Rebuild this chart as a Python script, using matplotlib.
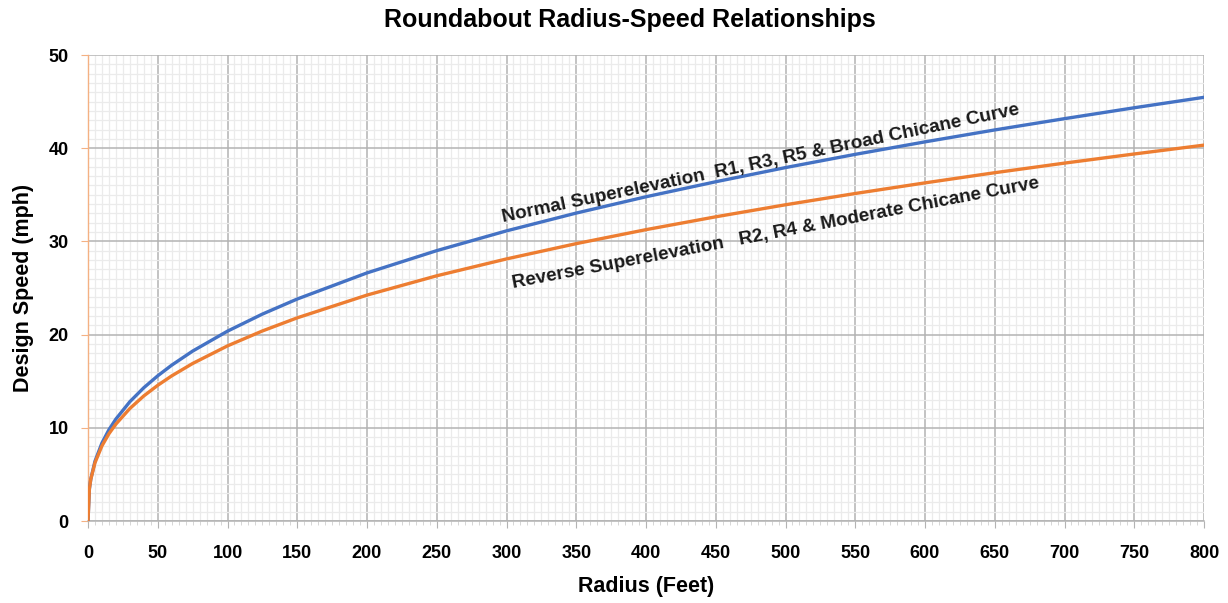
import matplotlib
matplotlib.use("Agg")
import matplotlib.pyplot as plt
from matplotlib.ticker import MultipleLocator

plt.rcParams['font.family'] = ['Liberation Sans', 'DejaVu Sans']

radius = [0, 1, 2, 5, 10, 15, 20, 30, 40, 50, 60, 75, 100, 125, 150, 200, 250, 300,
          350, 400, 450, 500, 550, 600, 650, 700, 750, 800]
normal_speed = [0, 3.44, 4.50, 6.41, 8.37, 9.79, 10.94, 12.80, 14.30, 15.58, 16.72, 18.23,
                20.37, 22.20, 23.82, 26.62, 29.01, 31.13, 33.04, 34.79, 36.40, 37.92,
                39.34, 40.68, 41.96, 43.17, 44.34, 45.46]
reverse_speed = [0, 3.46, 4.47, 6.25, 8.06, 9.36, 10.40, 12.07, 13.42, 14.56, 15.57, 16.90,
                 18.79, 20.39, 21.80, 24.24, 26.31, 28.12, 29.76, 31.26, 32.64, 33.93,
                 35.14, 36.28, 37.37, 38.40, 39.38, 40.33]

title = "Roundabout Radius-Speed Relationships"
xlabel = "Radius (Feet)"
ylabel = "Design Speed (mph)"
normal_label = "Normal Superelevation  R1, R3, R5 & Broad Chicane Curve"
reverse_label = "Reverse Superelevation   R2, R4 & Moderate Chicane Curve"

fig = plt.figure(figsize=(12.28, 6.03), dpi=100)
ax = fig.add_axes([88/1228, 1-521/603, (1204-88)/1228, (521-55)/603])

ax.set_xlim(0, 800)
ax.set_ylim(0, 50)
ax.xaxis.set_major_locator(MultipleLocator(50))
ax.xaxis.set_minor_locator(MultipleLocator(5))
ax.yaxis.set_major_locator(MultipleLocator(10))
ax.yaxis.set_minor_locator(MultipleLocator(1))

ax.grid(which='minor', color='#ebebeb', linewidth=0.9)
ax.grid(which='major', color='#b3b3b3', linewidth=1.1)
ax.set_axisbelow(True)

ax.plot(radius, normal_speed, color='#4472C4', linewidth=2.4, solid_capstyle='round', zorder=3)
ax.plot(radius, reverse_speed, color='#ED7D31', linewidth=2.4, solid_capstyle='round', zorder=3)

for s in ['top', 'right']:
    ax.spines[s].set_visible(False)
ax.spines['left'].set_color('#f4b183')
ax.spines['left'].set_linewidth(1.0)
ax.spines['bottom'].set_color('#b3b3b3')
ax.spines['bottom'].set_linewidth(1.1)

ax.tick_params(axis='y', which='major', length=5, color='#f4b183', labelsize=13, pad=9)
ax.tick_params(axis='y', which='minor', length=0)
ax.tick_params(axis='x', which='major', length=5, color='#b3b3b3', labelsize=13, pad=12)
ax.tick_params(axis='x', which='minor', length=3, color='#d0d0d0')
for lab in ax.get_xticklabels() + ax.get_yticklabels():
    lab.set_fontweight('bold')

ax.set_xlabel(xlabel, fontsize=15.5, fontweight='bold')
ax.set_ylabel(ylabel, fontsize=15.5, fontweight='bold')
ax.xaxis.set_label_coords(0.5, -0.118)
ax.yaxis.set_label_coords(-0.048, 0.5)
fig.text(630/1228, 1-20/603, title, ha='center', va='center', fontsize=18, fontweight='bold')

ax.text(482, 38.3, normal_label, rotation=11.8, rotation_mode='anchor', ha='center', va='center',
        fontsize=13.7, fontweight='bold', color='#1a1a1a', zorder=4)
ax.text(493, 30.9, reverse_label, rotation=10.8, rotation_mode='anchor', ha='center', va='center',
        fontsize=13.7, fontweight='bold', color='#1a1a1a', zorder=4)

fig.savefig("out.png", dpi=100)
